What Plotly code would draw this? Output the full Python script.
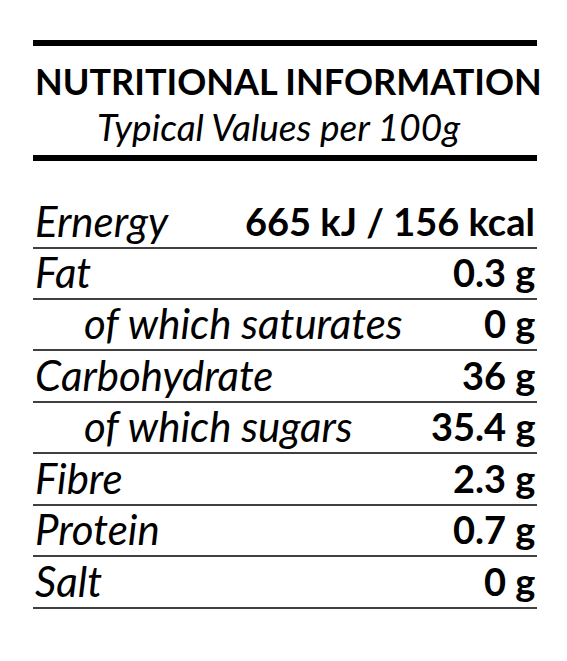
import plotly.graph_objects as go

title = "NUTRITIONAL INFORMATION"
subtitle = "Typical Values per 100g"
nutrients = ["Ernergy", "Fat", "of which saturates", "Carbohydrate", "of which sugars", "Fibre", "Protein", "Salt"]
indent = [False, False, True, False, True, False, False, False]
values = ["665 kJ / 156 kcal", "0.3 g", "0 g", "36 g", "35.4 g", "2.3 g", "0.7 g", "0 g"]

W, H = 567, 661
dx, dy = -8, -7
L, R = 33 + dx, 537 + dx
line_ys = [247, 298, 349, 401, 452, 504, 555, 607]

fig = go.Figure()
shapes = [
    dict(type="line", x0=L, x1=R, y0=42 + dy, y1=42 + dy, line=dict(color="black", width=6)),
    dict(type="line", x0=L, x1=R, y0=157 + dy, y1=157 + dy, line=dict(color="black", width=6)),
]
ann = [
    dict(x=L, y=80 + dy, text="<b>" + title + "</b>", xanchor="left", yanchor="middle",
         font=dict(size=36, family="Lato", color="black"), showarrow=False),
    dict(x=95 + dx, y=125 + dy, text="<i>" + subtitle + "</i>", xanchor="left", yanchor="middle",
         font=dict(size=37, family="Lato", color="black"), showarrow=False),
]
for i, (n, ind, v) in enumerate(zip(nutrients, indent, values)):
    y1 = line_ys[i] + dy
    yc = y1 - 27
    shapes.append(dict(type="line", x0=L, x1=R, y0=y1, y1=y1, line=dict(color="black", width=1.5)))
    ann.append(dict(x=(82 if ind else 33) + dx, y=yc, text="<i>" + n + "</i>", xanchor="left", yanchor="middle",
                    font=dict(size=42, family="Lato", color="black"), showarrow=False))
    ann.append(dict(x=R, y=yc, text="<b>" + v + "</b>", xanchor="right", yanchor="middle",
                    font=dict(size=38, family="Lato", color="black"), showarrow=False))

fig.update_layout(width=W, height=H, margin=dict(l=0, r=0, t=0, b=0),
                  paper_bgcolor="white", plot_bgcolor="white",
                  xaxis=dict(range=[0, W], visible=False, fixedrange=True),
                  yaxis=dict(range=[H, 0], visible=False, fixedrange=True),
                  shapes=shapes, annotations=ann, showlegend=False)
fig.write_html("out.html")
